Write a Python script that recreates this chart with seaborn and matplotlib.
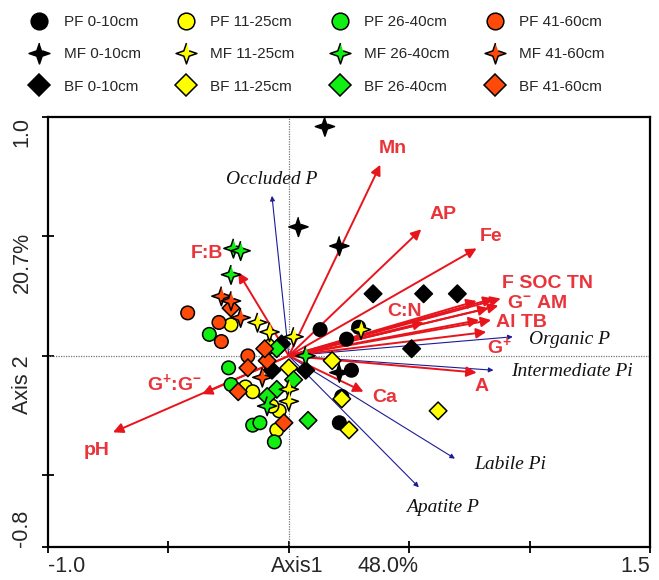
import numpy as np
import pandas as pd
import matplotlib
matplotlib.use("Agg")
import matplotlib.pyplot as plt
import seaborn as sns
from matplotlib.lines import Line2D

# ---------------- data ----------------
depths = ["0-10cm", "11-25cm", "26-40cm", "41-60cm"]
forests = ["PF", "MF", "BF"]

# PF samples (circles)
pf_depth = ["0-10cm"] * 6 + ["11-25cm"] * 6 + ["26-40cm"] * 6 + ["41-60cm"] * 4
pf_x = [0.13, 0.24, 0.29, 0.26, 0.22, 0.21,
        -0.24, -0.18, -0.15, -0.04, -0.05, -0.07,
        -0.33, -0.25, -0.24, -0.15, -0.12, -0.06,
        -0.42, -0.29, -0.28, -0.17]
pf_y = [0.11, 0.07, 0.12, -0.06, -0.17, -0.28,
        0.13, -0.13, -0.15, -0.23, -0.31, -0.21,
        0.09, -0.05, -0.12, -0.29, -0.28, -0.36,
        0.18, 0.14, 0.06, 0.00]

# MF samples (stars)
mf_depth = ["0-10cm"] * 4 + ["11-25cm"] * 6 + ["26-40cm"] * 5 + ["41-60cm"] * 4
mf_x = [0.15, 0.04, 0.21, 0.21,
        -0.13, -0.08, 0.02, 0.30, 0.00, 0.00,
        -0.23, -0.20, -0.24, 0.07, -0.09,
        -0.28, -0.24, -0.20, -0.11]
mf_y = [0.96, 0.54, 0.46, -0.07,
        0.14, 0.10, 0.08, 0.11, -0.14, -0.19,
        0.45, 0.44, 0.34, 0.00, -0.21,
        0.25, 0.23, 0.16, -0.09]

# BF samples (diamonds)
bf_depth = ["0-10cm"] * 7 + ["11-25cm"] * 6 + ["26-40cm"] * 5 + ["41-60cm"] * 6
bf_x = [0.35, 0.56, 0.70, 0.51, 0.07, -0.07, -0.03,
        -0.08, 0.00, 0.18, 0.22, 0.25, 0.62,
        -0.05, -0.05, -0.09, 0.02, 0.08,
        -0.24, -0.17, -0.09, -0.10, -0.21, -0.02]
bf_y = [0.26, 0.26, 0.26, 0.03, -0.06, -0.06, 0.05,
        0.04, -0.05, -0.02, -0.18, -0.31, -0.23,
        0.03, -0.14, -0.17, -0.10, -0.27,
        0.20, -0.05, -0.02, 0.03, -0.15, -0.28]

# environmental variables (red arrows)
env_names = ["Mn", "AP", "Fe", "F", "SOC", "TN", "G-", "AM", "Al", "TB",
             "G+", "C:N", "A", "Ca", "F:B", "G+:G-", "pH"]
env_x = [0.38, 0.55, 0.78, 0.78, 0.85, 0.88, 0.83, 0.87, 0.79, 0.84,
         0.82, 0.56, 0.78, 0.31, -0.21, -0.36, -0.73]
env_y = [0.80, 0.53, 0.45, 0.23, 0.24, 0.24, 0.20, 0.21, 0.15, 0.15,
         0.10, 0.14, -0.07, -0.15, 0.35, -0.16, -0.32]

# P fractions (blue supplementary arrows)
p_names = ["Occluded P", "Organic P", "Intermediate Pi", "Labile Pi", "Apatite P"]
p_x = [-0.07, 0.93, 0.85, 0.69, 0.54]
p_y = [0.67, 0.08, -0.06, -0.43, -0.55]

# ---------------- styling / layout ----------------
depth_colors = {"0-10cm": "#000000", "11-25cm": "#ffff00",
                "26-40cm": "#11ee11", "41-60cm": "#ff4a0a"}
star = [(np.cos(np.pi / 2 + i * np.pi / 4) * (1.0 if i % 2 == 0 else 0.36),
         np.sin(np.pi / 2 + i * np.pi / 4) * (1.0 if i % 2 == 0 else 0.36))
        for i in range(8)]
forest_markers = {"PF": "o", "MF": star, "BF": "D"}
forest_sizes = {"PF": 95, "MF": 190, "BF": 80}

RED = "#e8141c"
RED_TXT = "#e8343a"
BLUE = "#1c1c96"

# label positions (data units) for the arrow texts
red_labels = [("Mn", 0.43, 0.87), ("AP", 0.64, 0.59), ("Fe", 0.84, 0.50),
              ("F SOC TN", 1.075, 0.305), ("G$^{\\mathbf{-}}$ AM", 1.03, 0.22),
              ("Al TB", 0.965, 0.14), ("G$^{\\mathbf{+}}$", 0.875, 0.04),
              ("C:N", 0.48, 0.185), ("A", 0.80, -0.13), ("Ca", 0.40, -0.175),
              ("F:B", -0.34, 0.43),
              ("G$^{\\mathbf{+}}$:G$^{\\mathbf{-}}$", -0.475, -0.115),
              ("pH", -0.80, -0.395)]
blue_labels = [("Occluded P", -0.07, 0.74), ("Organic P", 1.165, 0.07),
               ("Intermediate Pi", 1.175, -0.067), ("Labile Pi", 0.92, -0.455),
               ("Apatite P", 0.64, -0.635)]

sns.set_theme(style="white")
plt.rcParams["font.family"] = ["Liberation Sans", "DejaVu Sans"]
plt.rcParams["mathtext.fontset"] = "custom"
plt.rcParams["mathtext.rm"] = "Liberation Sans:bold"
plt.rcParams["mathtext.bf"] = "Liberation Sans:bold"
plt.rcParams["mathtext.it"] = "Liberation Sans:bold"

fig = plt.figure(figsize=(6.59, 5.80), dpi=100)
ax = fig.add_axes([48 / 659, 1 - 547 / 580, 602 / 659, 430 / 580])
ax.set_xlim(-1.0, 1.5)
ax.set_ylim(-0.8, 1.0)

# origin dotted lines
ax.axhline(0, color="#777777", lw=0.9, ls=(0, (1, 1)), zorder=1)
ax.axvline(0, color="#777777", lw=0.9, ls=(0, (1, 1)), zorder=1)

# blue arrows
for n, x, y in zip(p_names, p_x, p_y):
    ax.annotate("", xy=(x, y), xytext=(0, 0),
                arrowprops=dict(arrowstyle="-|>", color=BLUE, lw=0.8,
                                mutation_scale=7, shrinkA=0, shrinkB=0),
                zorder=2)
# red arrows
for n, x, y in zip(env_names, env_x, env_y):
    ax.annotate("", xy=(x, y), xytext=(0, 0),
                arrowprops=dict(arrowstyle="-|>", color=RED, lw=1.4,
                                mutation_scale=15, shrinkA=0, shrinkB=0),
                zorder=3)

# samples
frames = {
    "PF": pd.DataFrame({"x": pf_x, "y": pf_y, "depth": pf_depth}),
    "MF": pd.DataFrame({"x": mf_x, "y": mf_y, "depth": mf_depth}),
    "BF": pd.DataFrame({"x": bf_x, "y": bf_y, "depth": bf_depth}),
}
for f in ["PF", "BF", "MF"]:
    sns.scatterplot(data=frames[f], x="x", y="y", hue="depth",
                    hue_order=depths, palette=depth_colors,
                    marker=forest_markers[f], s=forest_sizes[f],
                    edgecolor="black", linewidth=1.1, legend=False,
                    ax=ax, zorder=4)

for t, x, y in red_labels:
    ax.text(x, y, t, color=RED_TXT, fontsize=14, fontweight="bold",
            ha="center", va="center", zorder=6)
for t, x, y in blue_labels:
    ax.text(x, y, t, color="#111111", fontsize=14, fontstyle="italic",
            family="Liberation Serif", ha="center", va="center", zorder=6)

# axes frame / ticks
for s in ax.spines.values():
    s.set_color("black")
    s.set_linewidth(1.6)
ax.set_xticks([-1.0, -0.5, 0.0, 0.5, 1.0, 1.5])
ax.set_yticks([-0.8, -0.5, 0.0, 0.5, 1.0])
ax.set_xticklabels([])
ax.set_yticklabels([])
ax.tick_params(axis="both", direction="inout", length=9, width=1.3,
               color="black", bottom=True, left=True)
ax.set_xlabel("")
ax.set_ylabel("")

# axis texts (CANOCO style)
fs = 15.5
fig.text(48 / 659, 1 - 566 / 580, "-1.0", ha="left", va="center", fontsize=fs)
fig.text(650 / 659, 1 - 566 / 580, "1.5", ha="right", va="center", fontsize=fs)
fig.text(297 / 659, 1 - 566 / 580, "Axis1", ha="center", va="center", fontsize=fs)
fig.text(388 / 659, 1 - 566 / 580, "48.0%", ha="center", va="center", fontsize=fs)
fig.text(22 / 659, 1 - 117 / 580, "1.0", rotation=90, ha="center", va="top", fontsize=fs)
fig.text(22 / 659, 1 - 547 / 580, "-0.8", rotation=90, ha="center", va="bottom", fontsize=fs)
fig.text(22 / 659, 1 - 262 / 580, "20.7%", rotation=90, ha="center", va="center", fontsize=fs)
fig.text(22 / 659, 1 - 385 / 580, "Axis 2", rotation=90, ha="center", va="center", fontsize=fs)

# legend: columns = depth (colour), rows = forest (marker)
handles, labels = [], []
for d in depths:
    for f in forests:
        ms = {"PF": 12, "MF": 15, "BF": 11}[f]
        handles.append(Line2D([], [], ls="none", marker=forest_markers[f],
                              markersize=ms, markerfacecolor=depth_colors[d],
                              markeredgecolor="black", markeredgewidth=1.1))
        labels.append(f"{f} {d}")
fig.legend(handles, labels, ncol=4, loc="upper left",
           bbox_to_anchor=(0.025, 0.998), frameon=False, fontsize=11,
           handletextpad=1.0, columnspacing=2.35, labelspacing=1.2,
           handlelength=1.2)

fig.savefig("out.png", dpi=100)
